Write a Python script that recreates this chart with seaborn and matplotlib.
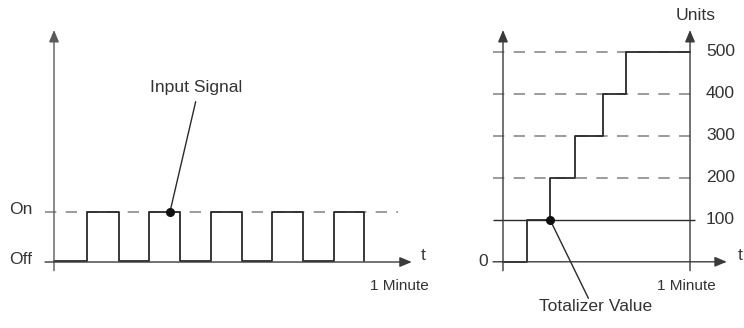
import matplotlib
matplotlib.use("Agg")
import matplotlib.pyplot as plt
import seaborn as sns
import numpy as np

# ---- data ----
# Left: input pulse signal (time in seconds, state 0=Off, 1=On)
signal_t = [0, 5.3, 10.5, 15.3, 20.3, 25.3, 30.3, 35.2, 40.2, 45.2, 50.0]
signal_v = [0, 1, 0, 1, 0, 1, 0, 1, 0, 1, 0]
signal_labels = ["Off", "On"]

# Right: totalizer value (time in seconds, units)
total_t = [0, 7.8, 15.1, 23.1, 32.0, 39.4, 60]
total_v = [0, 100, 200, 300, 400, 500, 500]
unit_ticks = [100, 200, 300, 400, 500]

sns.set_theme(style="white")
plt.rcParams["font.family"] = ["Liberation Sans", "DejaVu Sans"]

W, H = 744, 328
fig = plt.figure(figsize=(W / 100, H / 100), dpi=100)

TXT = "#333333"
AX = "#3a3a3a"
LINE = "#2a2a2a"
DASH = "#8a8a8a"
FS = 12.6
FS_SMALL = 11.0
dash = (0, (6.8, 5.6))


def arrow(ax, x0, y0, x1, y1, color=AX):
    ax.annotate("", xy=(x1, y1), xytext=(x0, y0),
                arrowprops=dict(arrowstyle="-|>,head_length=0.6,head_width=0.25",
                                lw=1.0, color=color, shrinkA=0, shrinkB=0),
                annotation_clip=False)

# ---------------- left panel ----------------
axL = fig.add_axes([0, 0, 440 / W, 1])
# pixel mapping: px = 54 + 6.2 t ; py = 260.7 - 48.7 s
axL.set_xlim((0 - 54) / 6.2, (440 - 54) / 6.2)
axL.set_ylim((260.7 - 328) / 48.7, 260.7 / 48.7)
axL.axis("off")

axL.hlines(1, -1.45, 55.5, colors=DASH, lw=1.2, linestyles=dash, zorder=1)
sns.lineplot(x=signal_t, y=signal_v, drawstyle="steps-post", color=LINE,
             lw=1.3, ax=axL, zorder=3)
arrow(axL, 0, -0.205, 0, 4.737, color="#5a5a5a")
arrow(axL, -1.45, -0.027, 57.7, -0.027)

axL.text(-5.35, 1.05, signal_labels[1], ha="center", va="center", fontsize=FS, color=TXT)
axL.text(-5.35, 0.03, signal_labels[0], ha="center", va="center", fontsize=FS, color=TXT)
axL.text(59.6, 0.10, "t", ha="center", va="center", fontsize=FS, color=TXT)
axL.text(55.7, -0.52, "1 Minute", ha="center", va="center", fontsize=FS_SMALL, color=TXT)

axL.plot([22.85, 18.7], [3.265, 1.0], color=LINE, lw=1.0, zorder=4)
axL.plot([18.7], [1.0], "o", color="#111111", ms=5.5, zorder=5)
axL.text(23.0, 3.55, "Input Signal", ha="center", va="center", fontsize=FS, color=TXT)

# ---------------- right panel ----------------
axR = fig.add_axes([440 / W, 0, 1 - 440 / W, 1])
# pixel mapping: px = 503 + 3.117 t ; py = 261.8 - 0.42 u
axR.set_xlim((440 - 503) / 3.117, (744 - 503) / 3.117)
axR.set_ylim((261.8 - 328) / 0.42, 261.8 / 0.42)
axR.axis("off")

for u in unit_ticks:
    if u == 100:
        axR.hlines(u, -3.2, 61.6, colors=LINE, lw=1.0, zorder=1)
    else:
        axR.hlines(u, -3.2, 61.6, colors=DASH, lw=1.2, linestyles=dash, zorder=1)
    axR.text(65.1, u, str(u), ha="left", va="center", fontsize=FS, color=TXT)

sns.lineplot(x=total_t, y=total_v, drawstyle="steps-post", color=LINE,
             lw=1.3, ax=axR, zorder=3)
arrow(axR, 0, -21.2, 0, 551.9)
arrow(axR, 60, -21.2, 60, 551.9)
arrow(axR, -3.2, 0, 71.8, 0)

axR.text(61.9, 587.6, "Units", ha="center", va="center", fontsize=FS, color=TXT)
axR.text(-6.5, 0, "0", ha="center", va="center", fontsize=FS, color=TXT)
axR.text(76.0, 16, "t", ha="center", va="center", fontsize=FS, color=TXT)
axR.text(58.9, -57.6, "1 Minute", ha="center", va="center", fontsize=FS_SMALL, color=TXT)

axR.plot([15.1, 27.4], [100, -86.9], color=LINE, lw=1.0, zorder=4)
axR.plot([15.1], [100], "o", color="#111111", ms=5.5, zorder=5)
axR.text(29.7, -107, "Totalizer Value", ha="center", va="center", fontsize=FS, color=TXT)

fig.savefig("out.png", dpi=100)
